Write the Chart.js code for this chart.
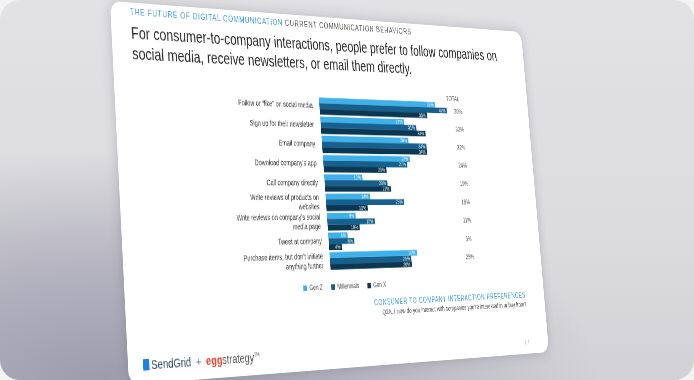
<!DOCTYPE html>
<html>
<head>
<meta charset="utf-8">
<script src="https://cdn.jsdelivr.net/npm/chart.js@4.4.0/dist/chart.umd.min.js"></script>
<style>
  html, body { margin: 0; padding: 0; background: #f3f3f3; }
  #frame {
    position: absolute; left: 0; top: 0; width: 694px; height: 380px;
    border-radius: 20px; overflow: hidden;
    background:
      radial-gradient(ellipse 95% 80% at 15% 100%, #9d9cac 0%, #b3b2bf 35%, rgba(214,214,218,0) 75%),
      linear-gradient(180deg, #e2e2e5 0%, #dcdcde 60%, #d2d2d6 100%);
  }
  #slide {
    position: absolute; left: 0; top: 0; width: 800px; height: 450px;
    background: #fff; border-radius: 16px; transform-origin: 0 0;
    box-shadow: 0 0 18px rgba(60,60,80,0.25);
    font-family: 'Liberation Sans', Arial, sans-serif;
  }
  .abs { position: absolute; white-space: nowrap; }
  #header { left: 32px; top: 5px; font-size: 11px; letter-spacing: 1.1px; color: #555; }
  #header span { color: #3a9ad9; }
  #title { left: 32px; top: 24px; font-size: 20.8px; line-height: 25px; color: #262626; }
  #chartBox { left: 135px; top: 88px; width: 540px; height: 275px; }
  #foot { right: 42px; top: 365px; font-size: 10px; letter-spacing: 1px; color: #3a9ad9; }
  #question { right: 42px; top: 378px; font-size: 9px; color: #444; }
  #logo { left: 24px; top: 420px; font-size: 15.5px; color: #294661; }
  #logo .icon { display: inline-block; width: 10px; height: 13px; background: #1a82e2; margin-right: 3px; vertical-align: -1px; }
  #logo .plus { color: #777; margin: 0 8px; }
  #logo .egg { color: #e8452c; font-weight: bold; }
  #logo .strat { color: #555; }
  #logo sup { font-size: 7px; color: #555; }
  #page { left: 748px; top: 430px; font-size: 7px; color: #999; }
</style>
</head>
<body>
<div id="frame">
  <div id="slide">
    <div id="header" class="abs"><span>THE FUTURE OF DIGITAL COMMUNICATION</span> CURRENT COMMUNICATION BEHAVIORS</div>
    <div id="title" class="abs">For consumer-to-company interactions, people prefer to follow companies on<br>social media, receive newsletters, or email them directly.</div>
    <div id="chartBox" class="abs"><canvas id="chart" width="540" height="275"></canvas></div>
    <div id="foot" class="abs">CONSUMER TO COMPANY INTERACTION PREFERENCES</div>
    <div id="question" class="abs">Q2A. / How do you interact with companies you’re interested in or buy from?</div>
    <div id="logo" class="abs"><span class="icon"></span>SendGrid<span class="plus">+</span><span class="egg">egg</span><span class="strat">strategy</span><sup>TM</sup></div>
    <div id="page" class="abs">|&nbsp; 9</div>
  </div>
</div>
<script>
// chart data
var categories = [
  'Follow or “like” on social media',
  'Sign up for their newsletter',
  'Email company',
  'Download company’s app',
  'Call company directly',
  ['Write reviews of products on', 'websites'],
  ['Write reviews on company’s social', 'media page'],
  'Tweet at company',
  ['Purchase items, but don’t initiate', 'anything further']
];
var genZ        = [38, 27, 28, 28, 12, 14, 9, 6, 28];
var millennials = [42, 31, 34, 27, 20, 25, 15, 8, 26];
var genX        = [35, 34, 34, 20, 21, 13, 10, 4, 26];
var totals      = ['39%', '32%', '32%', '24%', '19%', '18%', '11%', '6%', '25%'];
var seriesNames = ['Gen Z', 'Millennials', 'Gen X'];
var seriesColors = ['#3fb0e8', '#17608d', '#0c3753'];

// put the flat slide onto the tilted quad of the photo
function quadMatrix(w, h, p) {
  var x0 = p[0][0], y0 = p[0][1], x1 = p[1][0], y1 = p[1][1];
  var x2 = p[2][0], y2 = p[2][1], x3 = p[3][0], y3 = p[3][1];
  var dx1 = x1 - x2, dx2 = x3 - x2, dx3 = x0 - x1 + x2 - x3;
  var dy1 = y1 - y2, dy2 = y3 - y2, dy3 = y0 - y1 + y2 - y3;
  var den = dx1 * dy2 - dx2 * dy1;
  var g = (dx3 * dy2 - dx2 * dy3) / den;
  var hh = (dx1 * dy3 - dx3 * dy1) / den;
  var a = x1 - x0 + g * x1, b = x3 - x0 + hh * x3;
  var d = y1 - y0 + g * y1, e = y3 - y0 + hh * y3;
  return 'matrix3d(' + [a / w, d / w, 0, g / w, b / h, e / h, 0, hh / h, 0, 0, 1, 0, x0, y0, 0, 1].join(',') + ')';
}
document.getElementById('slide').style.transform =
  quadMatrix(800, 450, [[110, 1], [521, 32], [549, 352], [129, 385]]);

Chart.defaults.font.family = "'Liberation Sans', Arial, sans-serif";

var labelsPlugin = {
  id: 'barLabels',
  afterDatasetsDraw: function(chart) {
    var ctx = chart.ctx;
    ctx.save();
    ctx.font = '7px "Liberation Sans", Arial, sans-serif';
    ctx.fillStyle = '#ffffff';
    ctx.textAlign = 'right';
    ctx.textBaseline = 'middle';
    chart.data.datasets.forEach(function(ds, i) {
      chart.getDatasetMeta(i).data.forEach(function(bar, j) {
        ctx.fillText(ds.data[j] + '%', bar.x - 3, bar.y + 0.5);
      });
    });
    // total column
    var yScale = chart.scales.y;
    var xt = chart.chartArea.right + 6;
    ctx.fillStyle = '#555';
    ctx.textAlign = 'center';
    ctx.font = '9px "Liberation Sans", Arial, sans-serif';
    ctx.fillText('TOTAL', xt - 10, chart.chartArea.top - 4);
    totals.forEach(function(t, j) {
      ctx.fillText(t, xt, yScale.getPixelForValue(j) + 1);
    });
    ctx.restore();
  }
};

var datasets = [genZ, millennials, genX].map(function(vals, i) {
  return {
    label: seriesNames[i],
    data: vals,
    backgroundColor: seriesColors[i],
    borderWidth: 0,
    barPercentage: 1.0,
    categoryPercentage: 0.9
  };
});

new Chart(document.getElementById('chart'), {
  type: 'bar',
  data: { labels: categories, datasets: datasets },
  options: {
    indexAxis: 'y',
    responsive: false,
    animation: false,
    devicePixelRatio: 2,
    layout: { padding: { top: 10, right: 38, left: 0, bottom: 0 } },
    scales: {
      x: { display: false, min: 0, max: 45 },
      y: {
        grid: { display: false },
        border: { display: false },
        ticks: { color: '#333', font: { size: 10 }, padding: 5, autoSkip: false },
        afterFit: function(scale) { scale.width = 225; }
      }
    },
    plugins: {
      legend: {
        position: 'bottom',
        labels: { boxWidth: 7, boxHeight: 7, color: '#444', font: { size: 9 }, padding: 16 }
      },
      tooltip: { enabled: false }
    }
  },
  plugins: [labelsPlugin]
});
</script>
</body>
</html>
